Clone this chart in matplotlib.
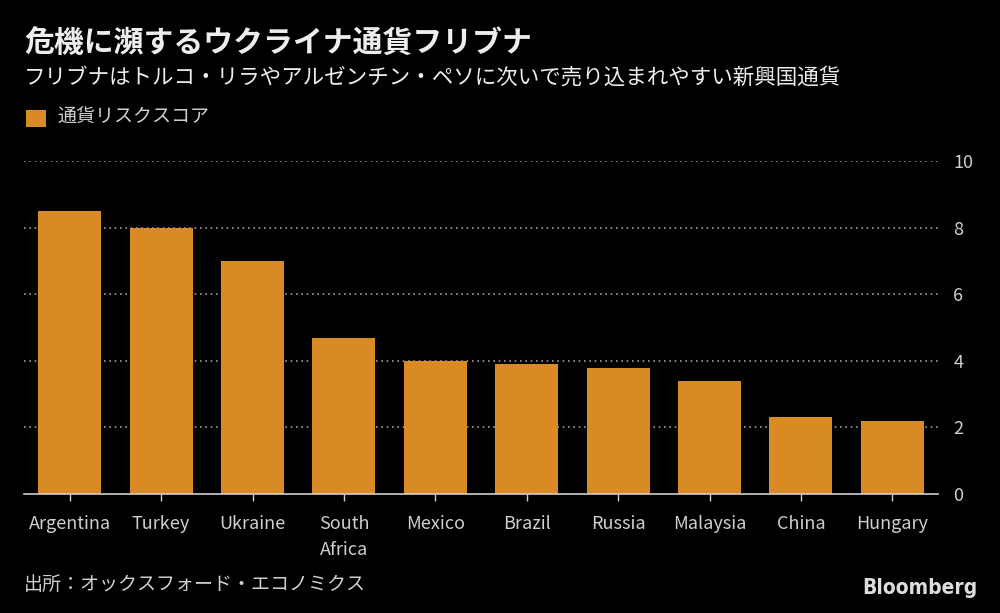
import matplotlib
matplotlib.use("Agg")
import matplotlib.pyplot as plt
from matplotlib.patches import Rectangle

plt.rcParams['font.family'] = ['Noto Sans CJK JP', 'DejaVu Sans']

countries = ["Argentina", "Turkey", "Ukraine", "South\nAfrica", "Mexico",
             "Brazil", "Russia", "Malaysia", "China", "Hungary"]
scores = [8.5, 8.0, 7.0, 4.7, 4.0, 3.9, 3.8, 3.4, 2.3, 2.2]
yticks = [0, 2, 4, 6, 8, 10]

title = "危機に瀕するウクライナ通貨フリブナ"
subtitle = "フリブナはトルコ・リラやアルゼンチン・ペソに次いで売り込まれやすい新興国通貨"
legend_label = "通貨リスクスコア"
source = "出所：オックスフォード・エコノミクス"

BG = "black"
BAR = "#D98A25"
TXT = "#EDEDED"
TICK = "#CFCFCF"

fig = plt.figure(figsize=(10, 6.13), dpi=100, facecolor=BG)
ax = fig.add_axes([0.024, 0.194, 0.914, 0.5433], facecolor=BG)

x = list(range(len(countries)))
ax.bar(x, scores, width=0.69, color=BAR, zorder=3)
ax.set_xlim(-0.5, len(countries) - 0.5)
ax.set_ylim(0, 10)

ax.set_yticks(yticks)
ax.yaxis.tick_right()
ax.tick_params(axis='y', length=0, pad=11, labelsize=13, labelcolor=TICK)
for t in yticks:
    if t > 0:
        ax.axhline(t, color="#9a9a9a", linestyle=(0, (1, 2.2)), linewidth=1.2, zorder=1)

ax.set_xticks(x)
ax.set_xticklabels(countries, linespacing=1.6)
ax.tick_params(axis='x', length=5, width=1, color=TICK, pad=10, labelsize=13, labelcolor=TICK)

for s in ["top", "right", "left"]:
    ax.spines[s].set_visible(False)
ax.spines["bottom"].set_color(TICK)
ax.spines["bottom"].set_linewidth(1.2)
ax.spines["bottom"].set_zorder(4)

fig.text(0.024, 0.929, title, color=TXT, fontsize=21.5, fontweight='bold', va='center', ha='left')
fig.text(0.024, 0.873, subtitle, color=TXT, fontsize=15.5, va='center', ha='left')
fig.patches.append(Rectangle((0.026, 0.793), 0.020, 0.028, transform=fig.transFigure,
                             facecolor=BAR, edgecolor='none'))
fig.text(0.057, 0.809, legend_label, color=TICK, fontsize=13.7, va='center', ha='left')
fig.text(0.024, 0.047, source, color=TICK, fontsize=13.7, va='center', ha='left')
fig.text(0.978, 0.040, "Bloomberg", color="#DDDDDD", fontsize=15, fontweight='bold',
         va='center', ha='right', family='DejaVu Sans', fontstretch='condensed')

fig.savefig("out.png", dpi=100, facecolor=BG)
